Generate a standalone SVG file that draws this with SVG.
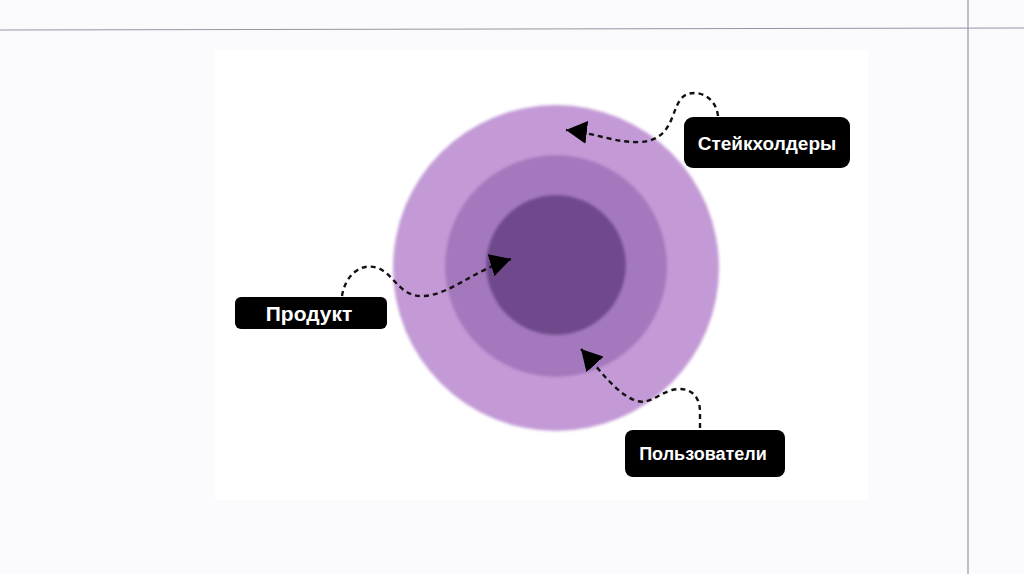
<svg xmlns="http://www.w3.org/2000/svg" width="1024" height="574" viewBox="0 0 1024 574">
<style>
.lbl{fill:#000}
.txt{fill:#fff;font-family:"Liberation Sans",Arial,sans-serif;font-weight:bold;text-anchor:middle;dominant-baseline:central}
.con{fill:none;stroke:#111;stroke-width:2.4;stroke-dasharray:5 4;stroke-linecap:butt}
</style>
<defs>
<marker id="ah" viewBox="0 0 20 22" refX="20" refY="11" markerWidth="21" markerHeight="23" markerUnits="userSpaceOnUse" orient="auto">
<path d="M0,0 L20,11 L0,22 Z" fill="#000"/>
</marker>
<filter id="soft" x="-10%" y="-10%" width="120%" height="120%"><feGaussianBlur stdDeviation="1.5"/></filter>
</defs>
<rect width="1024" height="574" fill="#fbfbfd"/>
<line x1="0" y1="30" x2="1024" y2="28" stroke="#9a93a6" stroke-width="1.2"/>
<line x1="968" y1="0" x2="968" y2="574" stroke="#9a93a6" stroke-width="1.2"/>
<rect x="215" y="50" width="653" height="450" fill="#ffffff"/>
<g id="rings" filter="url(#soft)">
<circle cx="556" cy="268" r="163" fill="#c39ad6"/>
<circle cx="556" cy="266" r="111" fill="#a478bd"/>
<circle cx="556" cy="265" r="70" fill="#704a8c"/>
</g>
<g id="connectors">
<path class="con" d="M718,116 C716,96 696,88 684,96 C670,106 676,140 640,142 C615,143 600,134 566,130" marker-end="url(#ah)"/>
<path class="con" d="M342,296 C345,276 360,262 378,268 C395,275 400,298 425,296 C450,294 475,270 511,259" marker-end="url(#ah)"/>
<path class="con" d="M700,428 L700,412 C700,394 688,386 672,390 C656,395 648,406 634,400 C615,392 600,370 581,349" marker-end="url(#ah)"/>
</g>
<g id="node-stakeholders">
<rect class="lbl" x="684" y="117" width="166" height="51" rx="9"/>
<text class="txt" x="767" y="143" font-size="19">Стейкхолдеры</text>
</g>
<g id="node-product">
<rect class="lbl" x="235" y="297" width="152" height="32" rx="6"/>
<text class="txt" x="309" y="313" font-size="21">Продукт</text>
</g>
<g id="node-users">
<rect class="lbl" x="625" y="430" width="160" height="47" rx="8"/>
<text class="txt" x="703" y="454" font-size="18">Пользователи</text>
</g>
</svg>
